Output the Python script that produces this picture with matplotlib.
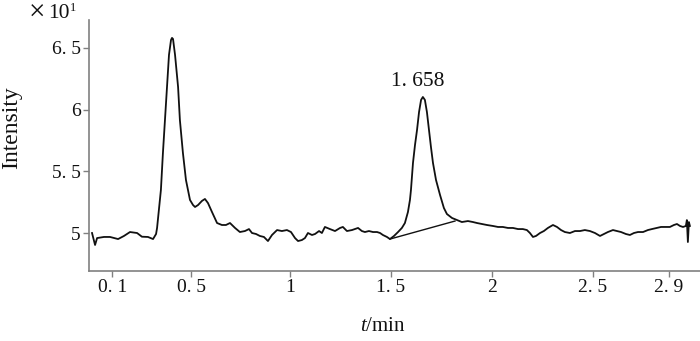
import matplotlib
matplotlib.use("Agg")
import matplotlib.pyplot as plt
from matplotlib.ticker import FixedLocator, FixedFormatter

# ---- data (time in min, intensity) ----
time_min = [0.020, 0.035, 0.045, 0.079, 0.109, 0.149, 0.178, 0.208, 0.243, 0.267,
            0.297, 0.322, 0.337, 0.342, 0.351, 0.361, 0.371, 0.381, 0.391, 0.401,
            0.411, 0.416, 0.421, 0.431, 0.446, 0.455, 0.470, 0.485, 0.505, 0.520,
            0.530, 0.545, 0.564, 0.579, 0.594, 0.614, 0.639, 0.663, 0.683, 0.703,
            0.728, 0.752, 0.777, 0.797, 0.812, 0.832, 0.851, 0.871, 0.891, 0.911,
            0.936, 0.960, 0.985, 1.005, 1.025, 1.040, 1.059, 1.074, 1.089, 1.109,
            1.124, 1.144, 1.158, 1.173, 1.198, 1.223, 1.248, 1.262, 1.282, 1.307,
            1.337, 1.356, 1.371, 1.391, 1.411, 1.431, 1.446, 1.460, 1.480, 1.495,
            1.515, 1.535, 1.554, 1.569, 1.584, 1.594, 1.599, 1.609, 1.619, 1.629,
            1.639, 1.649, 1.658, 1.668, 1.678, 1.688, 1.698, 1.708, 1.723, 1.743,
            1.762, 1.777, 1.802, 1.827, 1.851, 1.881, 1.906, 1.926, 1.950, 1.975,
            2.005, 2.030, 2.054, 2.079, 2.104, 2.129, 2.153, 2.173, 2.188, 2.203,
            2.218, 2.238, 2.257, 2.277, 2.302, 2.322, 2.342, 2.361, 2.386, 2.411,
            2.436, 2.460, 2.485, 2.510, 2.535, 2.554, 2.574, 2.599, 2.619, 2.639,
            2.663, 2.683, 2.703, 2.723, 2.748, 2.772, 2.792, 2.817, 2.837, 2.856,
            2.881, 2.901, 2.916, 2.931, 2.946, 2.960, 2.965, 2.970, 2.975, 2.980]

intensity = [50.00, 49.03, 49.59, 49.68, 49.68, 49.51, 49.76, 50.08, 50.00, 49.70,
             49.68, 49.51, 49.92, 50.41, 51.87, 53.49, 56.49, 59.16, 61.84, 64.44,
             65.65, 65.82, 65.73, 64.44, 61.84, 59.16, 56.49, 54.30, 52.68, 52.27,
             52.11, 52.27, 52.60, 52.76, 52.43, 51.70, 50.81, 50.65, 50.65, 50.81,
             50.41, 50.08, 50.16, 50.32, 50.00, 49.92, 49.76, 49.68, 49.35, 49.84,
             50.24, 50.16, 50.24, 50.08, 49.59, 49.35, 49.43, 49.59, 50.00, 49.84,
             49.92, 50.16, 50.00, 50.49, 50.32, 50.16, 50.41, 50.49, 50.16, 50.24,
             50.41, 50.16, 50.08, 50.16, 50.08, 50.08, 50.00, 49.84, 49.68, 49.51,
             49.76, 50.08, 50.41, 50.81, 51.70, 52.68, 53.49, 55.68, 57.14, 58.35,
             59.81, 60.79, 61.03, 60.79, 59.81, 58.35, 56.97, 55.68, 54.30, 53.08,
             52.03, 51.54, 51.22, 51.05, 50.89, 50.97, 50.89, 50.81, 50.73, 50.65,
             50.57, 50.49, 50.49, 50.41, 50.41, 50.32, 50.32, 50.24, 50.00, 49.68,
             49.76, 50.00, 50.16, 50.41, 50.65, 50.49, 50.24, 50.08, 50.00, 50.16,
             50.16, 50.24, 50.16, 50.00, 49.76, 49.92, 50.08, 50.24, 50.16, 50.08,
             49.92, 49.84, 50.00, 50.08, 50.08, 50.24, 50.32, 50.41, 50.49, 50.49,
             50.49, 50.65, 50.73, 50.57, 50.49, 50.57, 51.05, 49.27, 50.89, 50.57]

# integration baseline of the labelled peak
baseline_t = [1.495, 1.817]
baseline_i = [49.51, 50.97]

peak_rt = 1.658
peak_height = 61.03
peak_label = "1. 658"

x_tick_pos = [0.12, 0.51, 1.0, 1.5, 2.0, 2.5, 2.876]
x_tick_labels = ["0. 1", "0. 5", "1", "1. 5", "2", "2. 5", "2. 9"]
y_tick_pos = [50, 55, 60, 65]
y_tick_labels = ["5", "5. 5", "6", "6. 5"]

FONT = ["Liberation Serif", "DejaVu Serif"]
plt.rcParams["font.family"] = FONT
plt.rcParams["mathtext.fontset"] = "custom"
plt.rcParams["mathtext.it"] = "Liberation Serif:italic"
plt.rcParams["mathtext.rm"] = "Liberation Serif"

INK = "#111111"
AXC = "#808080"

fig = plt.figure(figsize=(7.0, 3.41), dpi=100)
ax = fig.add_axes([89 / 700, 1 - 271 / 341, 611 / 700, 251 / 341])

ax.plot(time_min, intensity, color=INK, lw=1.3, solid_joinstyle="round")
ax.plot(baseline_t, baseline_i, color=INK, lw=1.0)

ax.set_xlim(0.005, 3.03)
ax.set_ylim(46.92, 67.27)

for s in ("top", "right"):
    ax.spines[s].set_visible(False)
for s in ("left", "bottom"):
    ax.spines[s].set_color(AXC)
    ax.spines[s].set_linewidth(1.2)

ax.xaxis.set_major_locator(FixedLocator(x_tick_pos))
ax.xaxis.set_major_formatter(FixedFormatter(x_tick_labels))
ax.yaxis.set_major_locator(FixedLocator(y_tick_pos))
ax.yaxis.set_major_formatter(FixedFormatter(y_tick_labels))
ax.tick_params(axis="both", colors=AXC, length=4, width=1.0,
               labelcolor=INK, labelsize=14, pad=2)

ax.annotate(peak_label, xy=(peak_rt, peak_height), xytext=(peak_rt - 0.024, peak_height + 0.45),
            textcoords="data", ha="center", va="bottom", fontsize=15.5, color=INK)

ax.set_ylabel("Intensity", fontsize=17, color=INK)
ax.yaxis.set_label_coords(-0.109, 0.57)
ax.set_xlabel(r"$t$/min", fontsize=15, color=INK)
ax.xaxis.set_label_coords(0.481, -0.185)

fig.text(29 / 700, 1 - 14 / 341, "×", fontsize=21, va="center", ha="left", color=INK)
fig.text(48 / 700, 1 - 14 / 341, "10", fontsize=15.5, va="center", ha="left", color=INK)
fig.text(70 / 700, 1 - 8 / 341, "1", fontsize=9, va="center", ha="left", color=INK)

fig.savefig("out.png", dpi=100)
